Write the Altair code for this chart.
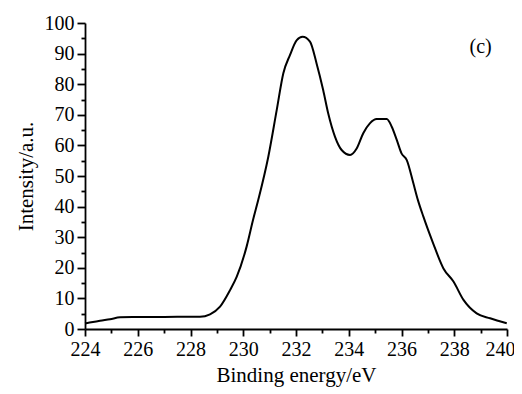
import altair as alt
import pandas as pd

energy = [224.0, 224.3, 224.57, 224.95, 225.33, 225.8, 226.5, 227.5, 228.36, 228.74,
          229.12, 229.5, 229.75, 230.13, 230.37, 230.57, 230.95, 231.27, 231.52, 231.77,
          232.03, 232.25, 232.53, 232.78, 233.03, 233.22, 233.48, 233.73, 234.05, 234.3,
          234.55, 234.8, 235.06, 235.44, 235.63, 235.82, 236.0, 236.2, 236.45, 236.62,
          236.83, 237.2, 237.59, 237.97, 238.35, 238.85, 239.36, 239.99]
intensity = [1.8, 2.3, 2.7, 3.2, 3.8, 3.9, 3.9, 4.0, 4.0, 4.8,
             7.3, 12.7, 17.0, 27.0, 35.6, 42.2, 56.3, 71.6, 83.6, 89.5,
             94.4, 95.5, 93.9, 86.8, 78.1, 70.5, 62.8, 58.5, 56.9, 59.0,
             64.0, 67.2, 68.6, 68.6, 66.1, 61.8, 57.4, 55.2, 47.6, 42.2,
             36.7, 28.0, 19.8, 15.5, 9.5, 5.1, 3.5, 1.9]

x_major = list(range(224, 241, 2))
x_minor = list(range(225, 240, 2))
y_major = list(range(0, 101, 10))
y_minor = list(range(5, 100, 10))

label_text = ["(c)"]
label_x = [239.0]
label_y = [92.0]

df = pd.DataFrame({"energy": energy, "intensity": intensity})
lab = pd.DataFrame({"t": label_text, "x": label_x, "y": label_y})

FONT = "Liberation Serif"

xscale = alt.Scale(domain=[224, 240], nice=False, zero=False)
yscale = alt.Scale(domain=[0, 100], nice=False)

common = dict(
    domainColor="black", domainWidth=1.8, tickColor="black", tickWidth=1.8,
    labelColor="black", labelPadding=3,
    titleColor="black", titleFontWeight="normal",
    labelOverlap=False, grid=False,
)

xaxis = alt.Axis(values=x_major, tickSize=7, labelFlush=False, orient="bottom",
                 labelOffset={"condition": {"test": "datum.value === 240", "value": -7}, "value": 0},
                 title="Binding energy/eV", titlePadding=5, **common)
yaxis = alt.Axis(values=y_major, tickSize=8, orient="left",
                 title="Intensity/a.u.", titlePadding=8, **common)

xminor = alt.Axis(values=x_minor, tickSize=4, labels=False, domain=False, title=None,
                  orient="bottom", tickColor="black", tickWidth=1.8, grid=False)
yminor = alt.Axis(values=y_minor, tickSize=4, labels=False, domain=False, title=None,
                  orient="left", tickColor="black", tickWidth=1.8, grid=False)

line = alt.Chart(df).mark_line(color="black", strokeWidth=2, interpolate="monotone").encode(
    x=alt.X("energy:Q", scale=xscale, axis=xaxis),
    y=alt.Y("intensity:Q", scale=yscale, axis=yaxis),
)

minor = alt.Chart(df).mark_point(opacity=0).encode(
    x=alt.X("energy:Q", scale=xscale, axis=xminor),
    y=alt.Y("intensity:Q", scale=yscale, axis=yminor),
)

text = alt.Chart(lab).mark_text(font=FONT, fontSize=20, color="black").encode(
    x=alt.X("x:Q", scale=xscale, axis=None),
    y=alt.Y("y:Q", scale=yscale, axis=None),
    text="t:N",
)

chart = alt.layer(line, minor, text).resolve_axis(x="independent", y="independent").properties(
    width=422, height=306,
    autosize=alt.AutoSizeParams(type="none"),
    padding={"left": 77, "top": 15, "right": 7, "bottom": 65},
)
chart.config = alt.Config(
    font=FONT,
    view=alt.ViewConfig(stroke=None),
    axis=alt.AxisConfig(labelFont=FONT, titleFont=FONT, labelFontSize=20, titleFontSize=21),
    text=alt.MarkConfig(font=FONT),
)

chart.save("out.html", embed_options={"renderer": "svg", "actions": False})
